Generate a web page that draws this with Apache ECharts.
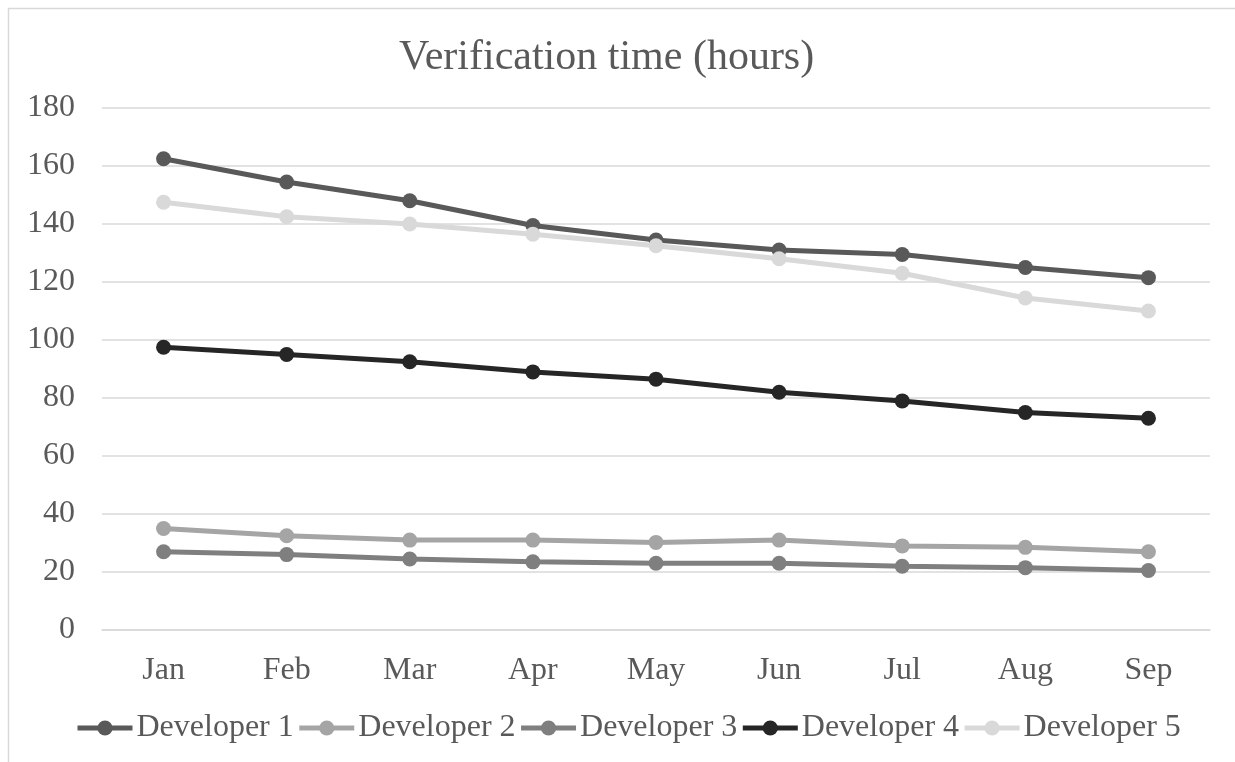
<!DOCTYPE html>
<html>
<head>
<meta charset="utf-8">
<script src="https://cdn.jsdelivr.net/npm/echarts@6/dist/echarts.min.js"></script>
<style>
  html, body { margin: 0; padding: 0; background: #fff; }
  #chart { width: 1235px; height: 762px; }
</style>
</head>
<body>
<div id="chart"></div>
<script>
// Monthly verification time per developer, in hours
const months = ['Jan', 'Feb', 'Mar', 'Apr', 'May', 'Jun', 'Jul', 'Aug', 'Sep'];
const developer1 = [162.5, 154.5, 148, 139.5, 134.5, 131, 129.5, 125, 121.5];
const developer2 = [35, 32.5, 31, 31, 30.2, 31, 29, 28.5, 27];
const developer3 = [27, 26, 24.5, 23.5, 23, 23, 22, 21.5, 20.5];
const developer4 = [97.5, 95, 92.5, 89, 86.5, 82, 79, 75, 73];
const developer5 = [147.5, 142.5, 140, 136.5, 132.5, 128, 123, 114.5, 110];
const yTicks = { min: 0, max: 180, interval: 20 };

const seriesDefs = [
  { name: 'Developer 1', data: developer1, color: '#595959' },
  { name: 'Developer 2', data: developer2, color: '#a5a5a5' },
  { name: 'Developer 3', data: developer3, color: '#7f7f7f' },
  { name: 'Developer 4', data: developer4, color: '#262626' },
  { name: 'Developer 5', data: developer5, color: '#d9d9d9' }
];

const font = '"Liberation Serif", "Times New Roman", serif';
const textColor = '#595959';
const lineWidth = 5;

const chart = echarts.init(document.getElementById('chart'), null, { renderer: 'canvas' });
chart.setOption({
  animation: false,
  backgroundColor: '#fff',
  graphic: [{
    type: 'rect',
    shape: { x: 8.5, y: 8.5, width: 1400, height: 900 },
    style: { fill: 'none', stroke: '#d9d9d9', lineWidth: 1.5 },
    silent: true
  }],
  title: {
    text: 'Verification time (hours)',
    left: 394,
    top: 32,
    textStyle: { fontFamily: font, fontSize: 42, fontWeight: 'normal', color: textColor }
  },
  legend: {
    bottom: 13,
    left: 70,
    itemWidth: 55,
    itemHeight: 19,
    itemGap: 3,
    lineStyle: { width: lineWidth },
    textStyle: { fontFamily: font, fontSize: 32, color: textColor, padding: [0, 0, 0, -1] },
    data: seriesDefs.map(s => s.name)
  },
  grid: { left: 102, right: 25, top: 108, bottom: 132, containLabel: false },
  xAxis: {
    type: 'category',
    data: months,
    boundaryGap: true,
    axisLine: { show: true, lineStyle: { color: '#d9d9d9', width: 1.5 } },
    axisTick: { show: false },
    axisLabel: { fontFamily: font, fontSize: 32, color: textColor, margin: 25 }
  },
  yAxis: {
    type: 'value',
    min: yTicks.min,
    max: yTicks.max,
    interval: yTicks.interval,
    axisLine: { show: false },
    axisTick: { show: false },
    axisLabel: { fontFamily: font, fontSize: 32, color: textColor, margin: 27 },
    splitLine: { lineStyle: { color: '#d9d9d9', width: 1.5 } }
  },
  series: seriesDefs.map(s => ({
    name: s.name,
    type: 'line',
    data: s.data,
    symbol: 'circle',
    symbolSize: 15,
    lineStyle: { color: s.color, width: lineWidth },
    itemStyle: { color: s.color },
    emphasis: { disabled: true }
  }))
});
</script>
</body>
</html>
